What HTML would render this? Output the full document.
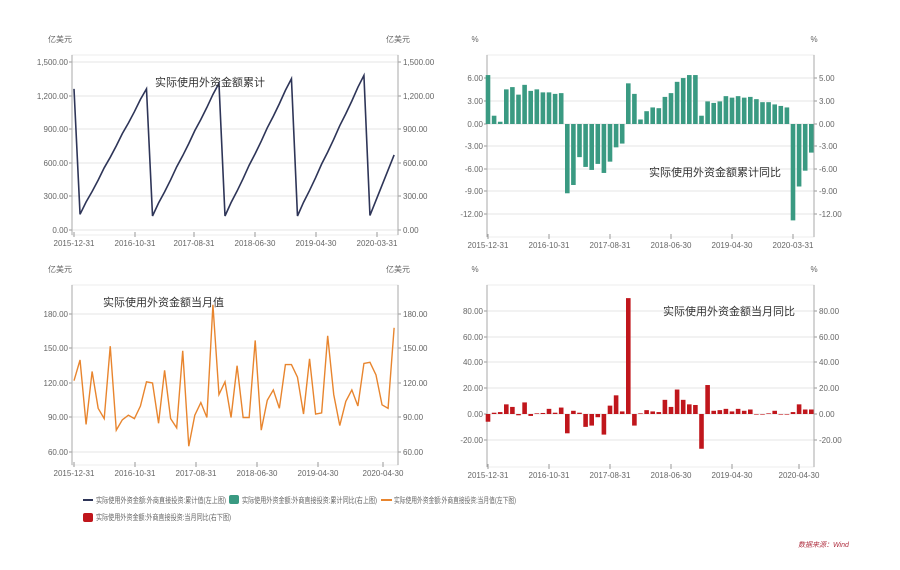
<!DOCTYPE html>
<html><head><meta charset="utf-8"><style>
body{margin:0;background:#fff;width:900px;height:565px;overflow:hidden;font-family:"Liberation Sans","Noto Sans CJK SC",sans-serif}
svg text{font-family:"Liberation Sans","Noto Sans CJK SC",sans-serif}
</style></head><body>
<svg id="s" width="900" height="565" xmlns="http://www.w3.org/2000/svg"></svg>
<script>
const s=document.getElementById('s');let h='';
function T(x,y,t,o){o=o||{};h+=`<text x="${x}" y="${y}" font-size="${o.fs||8}" fill="${o.c||'#666'}" text-anchor="${o.a||'start'}"${o.st?' font-style="italic"':''}${o.tl?` textLength="${o.tl}" lengthAdjust="spacingAndGlyphs"`:''}>${t}</text>`;}
function frame(x0,x1,y0,y1,grid,ll,rl,xt,xl,unit){
  h+=`<rect x="${x0}" y="${y0}" width="${x1-x0}" height="${y1-y0}" fill="none" stroke="#eee"/>`;
  grid.forEach((g,i)=>{h+=`<line x1="${x0}" x2="${x1}" y1="${g}" y2="${g}" stroke="#e6e6e6"/>`;
    h+=`<line x1="${x0-3}" x2="${x0}" y1="${g}" y2="${g}" stroke="#999"/><line x1="${x1}" x2="${x1+3}" y1="${g}" y2="${g}" stroke="#999"/>`;
    T(x0-4,g+3,ll[i],{a:'end'});T(x1+5,g+3,rl[i]);});
  h+=`<line x1="${x0}" x2="${x0}" y1="${y0}" y2="${y1}" stroke="#aaa"/><line x1="${x1}" x2="${x1}" y1="${y0}" y2="${y1}" stroke="#aaa"/>`;
  xt.forEach((x,i)=>{h+=`<line x1="${x}" x2="${x}" y1="${y1-3}" y2="${y1+2}" stroke="#999"/>`;T(x,y1+11,xl[i],{a:'middle'});});
  T(x0-12,y0-13,unit,{a:'middle'});T(x1,y0-13,unit,{a:'middle'});
}
const xl1=['2015-12-31','2016-10-31','2017-08-31','2018-06-30','2019-04-30','2020-03-31'];
const xl2=['2015-12-31','2016-10-31','2017-08-31','2018-06-30','2019-04-30','2020-04-30'];
const ticks=[74,135,194,255,316,377],ticks2=[488,549,610,671,732,793];
frame(72,398,55,235,[62,96,129,163,196,230],['1,500.00','1,200.00','900.00','600.00','300.00','0.00'],['1,500.00','1,200.00','900.00','600.00','300.00','0.00'],ticks,xl1,'亿美元');
let v=[1260];[[140,1260],[125,1310],[125,1350],[125,1380]].forEach(([a,b])=>{for(let m=0;m<12;m++)v.push(a+(b-a)*m/11+(m%3==1?8:0));});
for(let m=0;m<5;m++)v.push(130+(670-130)*m/4);
let p=v.map((y,i)=>`${74+i*6.04},${230-y*168/1500}`).join(' ');
h+=`<polyline points="${p}" fill="none" stroke="#2e3558" stroke-width="1.6"/>`;
T(155,86,'实际使用外资金额累计',{fs:11,c:'#333'});
frame(487,814,55,237,[78,101,124,146,169,191,214],['6.00','3.00','0.00','-3.00','-6.00','-9.00','-12.00'],['5.00','3.00','0.00','-3.00','-6.00','-9.00','-12.00'],ticks2,xl1,'%');
const b2=[6.5,1.1,0.3,4.6,4.9,3.9,5.2,4.4,4.6,4.2,4.2,4.0,4.1,-9.2,-8.1,-4.4,-5.7,-6.1,-5.3,-6.5,-5.0,-3.1,-2.6,5.4,4.0,0.6,1.7,2.2,2.1,3.6,4.1,5.6,6.1,6.5,6.5,1.1,3.0,2.8,3.0,3.7,3.5,3.7,3.5,3.6,3.3,2.9,2.9,2.6,2.4,2.2,-12.8,-8.3,-6.2,-3.8];
b2.forEach((b,i)=>{const x=488+i*6.1-2.3,y=124-Math.max(b,0)*7.53;h+=`<rect x="${x}" y="${y}" width="4.6" height="${Math.abs(b)*7.53}" fill="#3a9a82"/>`;});
T(649,176,'实际使用外资金额累计同比',{fs:11,c:'#333'});
frame(72,398,285,465,[314,348,383,417,452],['180.00','150.00','120.00','90.00','60.00'],['180.00','150.00','120.00','90.00','60.00'],[74,135,196,257,318,383],xl2,'亿美元');
const v3=[122,140,84,130,98,89,152,79,88,92,89,100,121,120,85,131,89,81,148,65,92,103,90,188,110,121,90,135,90,90,157,79,105,114,98,136,136,125,93,141,93,94,161,110,83,104,114,100,137,138,127,101,98,168];
p=v3.map((y,i)=>`${74+i*6.04},${452-(y-60)*138/120}`).join(' ');
h+=`<polyline points="${p}" fill="none" stroke="#e8852e" stroke-width="1.4"/>`;
T(103,306,'实际使用外资金额当月值',{fs:11,c:'#333'});
frame(487,814,285,467,[311,337,362,388,414,440],['80.00','60.00','40.00','20.00','0.00','-20.00'],['80.00','60.00','40.00','20.00','0.00','-20.00'],[488,549,610,671,732,799],xl2,'%');
const b4=[-6,1,1.5,7.5,5.5,-1,9,-1.5,0.5,0.8,4,1,5,-15,2.5,1,-10,-9,-2.5,-16,6.5,14.5,2,90,-9,0.5,3,2,1.5,11,5.5,19,11,7.5,7,-27,22.5,2.5,3,4,2,4,2.5,3.5,0,0,0.5,2.5,0,0,1.5,7.5,3.5,3.5];
b4.forEach((b,i)=>{const x=488+i*6.1-2.3,y=414-Math.max(b,0)*1.2875;h+=`<rect x="${x}" y="${y}" width="4.6" height="${Math.max(Math.abs(b)*1.2875,0.6)}" fill="#c0161c"/>`;});
T(663,315,'实际使用外资金额当月同比',{fs:11,c:'#333'});
h+=`<line x1="83" x2="93" y1="500" y2="500" stroke="#2e3558" stroke-width="2"/>`;T(96,503,'实际使用外资金额:外商直接投资:累计值(左上图)',{tl:130});
h+=`<rect x="229" y="495" width="10" height="9" rx="2" fill="#3a9a82"/>`;T(242,503,'实际使用外资金额:外商直接投资:累计同比(右上图)',{tl:135});
h+=`<line x1="381" x2="392" y1="500" y2="500" stroke="#e8852e" stroke-width="2"/>`;T(394,503,'实际使用外资金额:外商直接投资:当月值(左下图)',{tl:122});
h+=`<rect x="83" y="513" width="10" height="9" rx="2" fill="#c0161c"/>`;T(96,520,'实际使用外资金额:外商直接投资:当月同比(右下图)',{tl:135});
T(798,547,'数据来源：Wind',{fs:7,c:'#b03040',st:1});
s.innerHTML=h;
</script>
</body></html>
